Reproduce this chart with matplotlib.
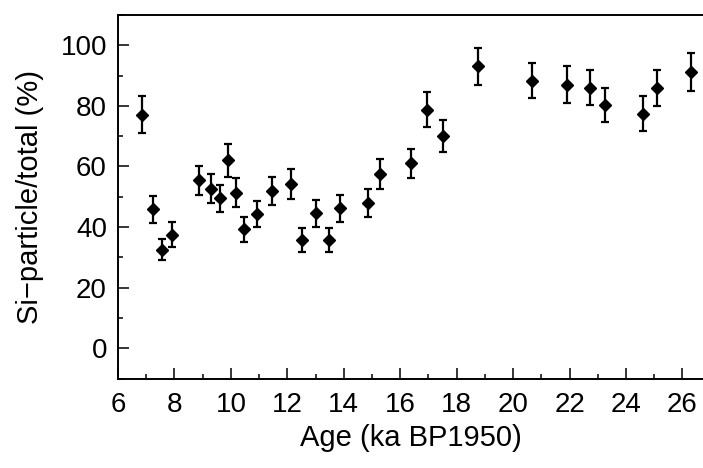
import matplotlib
matplotlib.use("Agg")
import matplotlib.pyplot as plt
from matplotlib.ticker import MultipleLocator

plt.rcParams['font.family'] = ['Liberation Sans', 'DejaVu Sans']

# Data
age = [6.84, 7.25, 7.55, 7.92, 8.88, 9.28, 9.60, 9.89, 10.18, 10.45,
       10.93, 11.46, 12.13, 12.53, 13.02, 13.48, 13.88, 14.87, 15.28, 16.37,
       16.95, 17.52, 18.76, 20.66, 21.92, 22.74, 23.27, 24.60, 25.10, 26.32]
si_ratio = [77.1, 45.9, 32.5, 37.5, 55.5, 52.7, 49.5, 62.0, 51.4, 39.3,
            44.3, 51.9, 54.2, 35.7, 44.5, 35.7, 46.2, 47.9, 57.4, 61.0,
            78.8, 70.0, 93.0, 88.3, 87.0, 86.0, 80.3, 77.4, 85.9, 91.2]
si_err = [6.0, 4.5, 3.5, 4.2, 4.8, 4.7, 4.5, 5.4, 4.7, 4.1,
          4.3, 4.6, 4.9, 4.0, 4.5, 4.0, 4.4, 4.6, 4.9, 4.9,
          5.7, 5.3, 6.0, 5.8, 6.0, 5.8, 5.7, 5.7, 5.9, 6.3]

fig = plt.figure(figsize=(7.03, 4.68), dpi=100, facecolor='w')
ax = fig.add_axes([118/703., 89.5/468., 585/703., 363.5/468.])

ax.errorbar(age, si_ratio, yerr=si_err, fmt='D', color='k', ms=6,
            elinewidth=1.6, capsize=3, capthick=1.6)

# Axis limits
ax.set_xlim(6, 26.73)
ax.set_ylim(-10, 110)

# Spines (right one is cut off in the original)
ax.spines['right'].set_visible(False)
for s in ['left', 'top', 'bottom']:
    ax.spines[s].set_linewidth(1.4)

# Ticks
ax.xaxis.set_major_locator(MultipleLocator(2))
ax.xaxis.set_minor_locator(MultipleLocator(1))
ax.yaxis.set_major_locator(MultipleLocator(20))
ax.yaxis.set_minor_locator(MultipleLocator(10))
ax.set_yticks([0, 20, 40, 60, 80, 100])
ax.tick_params(which='both', direction='in', top=False, right=False, width=1.1)
ax.tick_params(which='major', length=8, labelsize=20, pad=8)
ax.tick_params(axis='x', which='major', pad=10)
ax.tick_params(which='minor', length=3.6)

# Labels
ax.set_xlabel("Age (ka BP1950)", fontsize=21, labelpad=4)
ax.set_ylabel("Si\u2212particle/total (%)", fontsize=21, labelpad=12)

fig.savefig("out.png", dpi=100)
